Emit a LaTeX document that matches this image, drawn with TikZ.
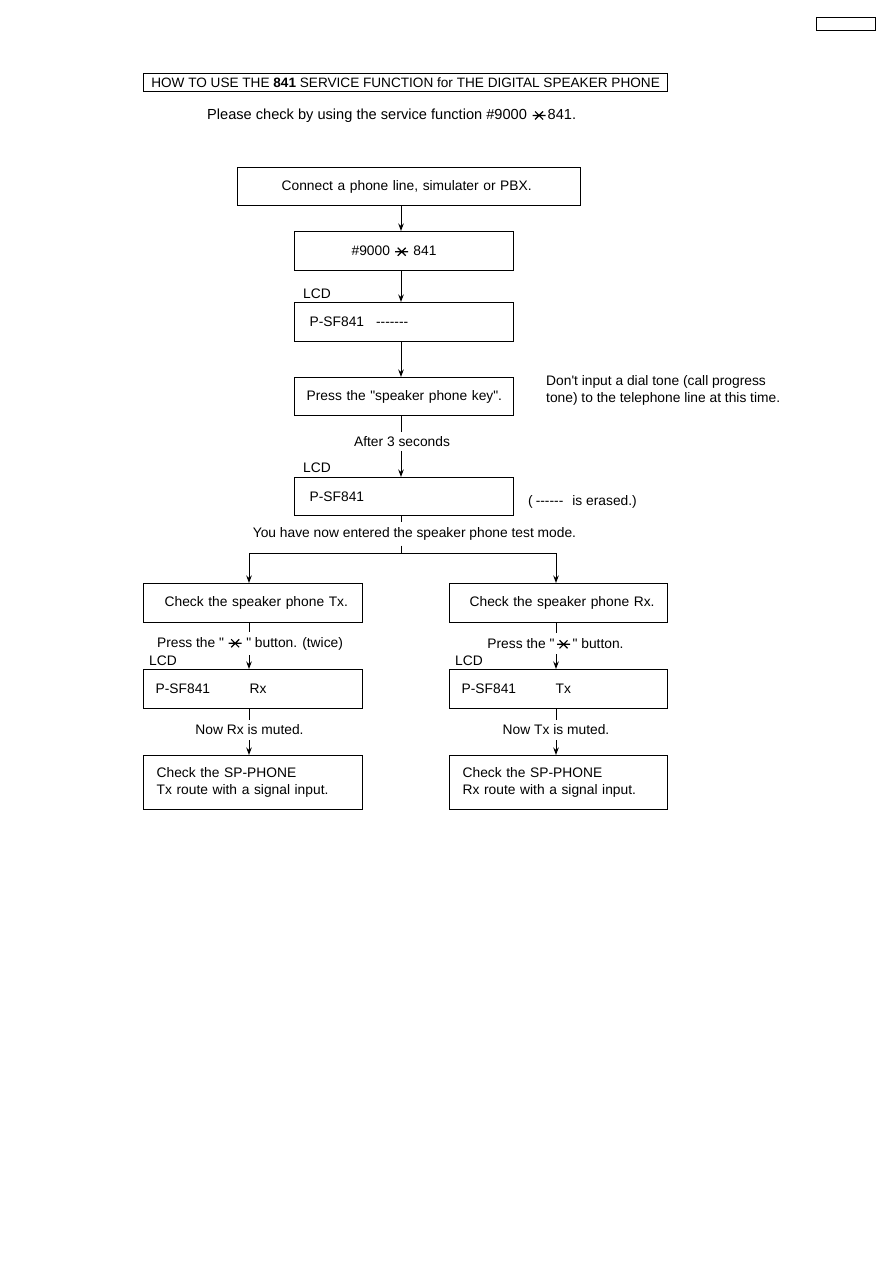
\documentclass[tikz,border=0pt]{standalone}
\usepackage{fontspec}
\newfontfamily\lsans{Liberation Sans}
\usetikzlibrary{arrows.meta}
\newcommand{\komeji}{\tikz[baseline=-3.8pt]{\draw[line width=1.2pt] (-4pt,-4pt)--(4pt,4pt) (-4pt,4pt)--(4pt,-4pt) (-6.5pt,0pt)--(6.5pt,0pt);}}
\begin{document}
\begin{tikzpicture}[x=1pt,y=-1pt,
  every node/.style={font=\lsans\fontsize{13.8}{17}\selectfont},
  box/.style={draw,line width=1.3pt,anchor=north west,inner xsep=0pt,inner ysep=0pt,align=left},
  lbl/.style={inner sep=0pt},
  arr/.style={line width=1pt,-{Stealth[length=7.5pt,width=5.5pt]}},
  ln/.style={line width=1pt}]
\useasboundingbox (0,0) rectangle (893,1263);

% page tag box
\node[draw,line width=1.2pt,anchor=north west,minimum width=59pt,minimum height=13pt,inner sep=0pt] (tag) at (816,17) {};

% title
\node[draw,line width=1.1pt,anchor=north west,minimum width=524pt,minimum height=18pt,inner sep=0pt,font=\lsans\fontsize{13.6}{16}\selectfont] (title) at (143,73) {HOW TO USE THE \textbf{841} SERVICE FUNCTION for THE DIGITAL SPEAKER PHONE};
\node[lbl,anchor=west,font=\lsans\fontsize{14.6}{17}\selectfont] (please) at (207,115.5) {Please check by using the service function \#9000\hspace{5pt}\komeji\hspace{1.5pt}841.};

\coordinate (spine) at (401,0);

\node[box,text width=343pt,minimum height=38pt] (b1) at (237,167) {\hspace*{44pt}Connect a phone line, simulater or PBX.};
\node[box,text width=219pt,minimum height=39pt] (b2) at (294,231) {\hspace*{57pt}\#9000 \komeji\ 841};
\node[lbl,anchor=west] (lcd1) at (303,293.5) {LCD};
\node[box,text width=219pt,minimum height=39pt] (b3) at (294,302) {\hspace*{15pt}P-SF841\hspace{12pt}-{}-{}-{}-{}-{}-{}-};
\node[box,text width=219pt,minimum height=38pt] (b4) at (294,377) {\hspace*{12pt}Press the "speaker phone key".};
\node[lbl,anchor=north west,align=left] (note) at (546,375.5) {Don\textquotesingle t input a dial tone (call progress\\tone) to the telephone line at this time.};
\node[lbl,inner ysep=4pt] (after) at (402,441.5) {After 3 seconds};
\node[lbl,anchor=west] (lcd2) at (303,467.5) {LCD};
\node[box,text width=219pt,minimum height=38pt] (b5) at (294,477) {\hspace*{15pt}P-SF841};
\node[lbl,anchor=west] (erased) at (528,501.5) {(\hspace{3pt}-{}-{}-{}-{}-{}-\hspace{9pt}is erased.)};
\node[lbl,inner ysep=5pt] (mode) at (414.5,534) {You have now entered the speaker phone test mode.};

\draw[arr] (b1.south -| spine) -- (b2.north -| spine);
\draw[arr] (b2.south -| spine) -- (b3.north -| spine);
\draw[arr] (b3.south -| spine) -- (b4.north -| spine);
\draw[ln] (b4.south -| spine) -- (after.north -| spine);
\draw[arr] (after.south -| spine) -- (b5.north -| spine);
\draw[ln] (b5.south -| spine) -- (mode.north -| spine);

% branches
\node[box,text width=219pt,minimum height=39pt] (b6) at (143,583) {\hspace*{21pt}Check the speaker phone Tx.};
\node[box,text width=218pt,minimum height=39pt] (b7) at (449,583) {\hspace*{20pt}Check the speaker phone Rx.};
\coordinate (fork) at (401,553);
\coordinate (lx) at (249,0);
\coordinate (rx) at (556,0);
\draw[ln] (mode.south -| spine) -- (fork);
\draw[arr] (fork) -- (fork -| lx) -- (b6.north -| lx);
\draw[arr] (fork) -- (fork -| rx) -- (b7.north -| rx);

\node[lbl,inner ysep=5pt] (pressL) at (250,643.5) {Press the "\hspace{4pt}\komeji\hspace{4pt}" button. (twice)};
\node[lbl,inner ysep=5pt] (pressR) at (555.5,643.5) {Press the "\hspace{2pt}\komeji\hspace{2pt}" button.};
\node[lbl,anchor=west] (lcd3) at (149,660.5) {LCD};
\node[lbl,anchor=west] (lcd4) at (455,660.5) {LCD};
\node[box,text width=219pt,minimum height=39pt] (b8) at (143,669) {\hspace*{12pt}\makebox[94pt][l]{P-SF841}Rx};
\node[box,text width=218pt,minimum height=39pt] (b9) at (449,669) {\hspace*{12pt}\makebox[94pt][l]{P-SF841}Tx};
\node[lbl,inner ysep=5pt] (muteL) at (249.5,730) {Now Rx is muted.};
\node[lbl,inner ysep=5pt] (muteR) at (556,730) {Now Tx is muted.};
\node[box,text width=219pt,minimum height=54pt] (b10) at (143,755) {\hspace*{13pt}Check the SP-PHONE\\\hspace*{13pt}Tx route with a signal input.};
\node[box,text width=218pt,minimum height=54pt] (b11) at (449,755) {\hspace*{13pt}Check the SP-PHONE\\\hspace*{13pt}Rx route with a signal input.};

\draw[ln] (b6.south -| lx) -- (pressL.north -| lx);
\draw[arr] (pressL.south -| lx) -- (b8.north -| lx);
\draw[ln] (b8.south -| lx) -- (muteL.north -| lx);
\draw[arr] (muteL.south -| lx) -- (b10.north -| lx);
\draw[ln] (b7.south -| rx) -- (pressR.north -| rx);
\draw[arr] (pressR.south -| rx) -- (b9.north -| rx);
\draw[ln] (b9.south -| rx) -- (muteR.north -| rx);
\draw[arr] (muteR.south -| rx) -- (b11.north -| rx);
\end{tikzpicture}
\end{document}
